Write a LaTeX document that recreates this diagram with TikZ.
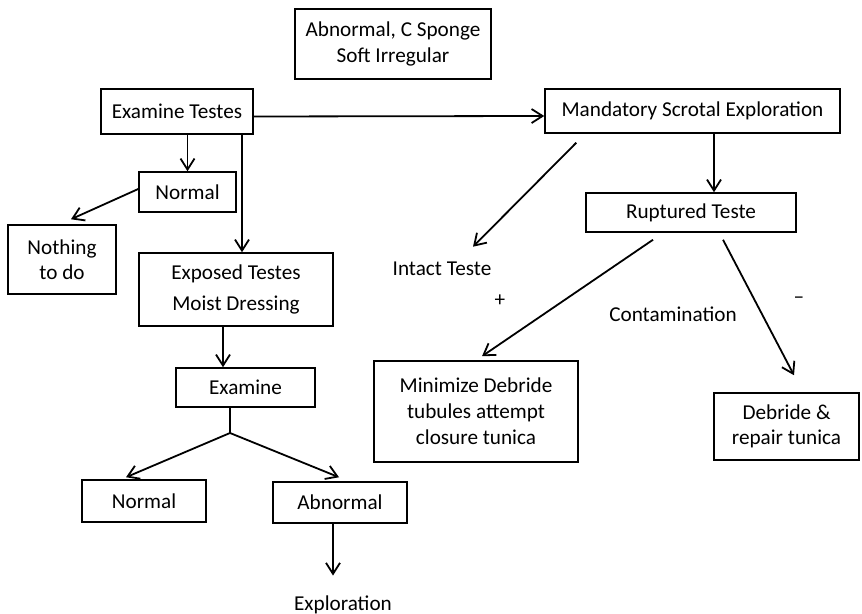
\documentclass[tikz,border=0pt]{standalone}
\usepackage{fontspec}
\setmainfont{Carlito}
\usetikzlibrary{arrows.meta}
\begin{document}
\begin{tikzpicture}[x=0.5pt,y=-0.5pt,
  box/.style={draw, line width=0.75pt, inner sep=0pt, align=center,
    font=\fontsize{10.6}{13}\selectfont},
  lbl/.style={inner sep=0pt, font=\fontsize{10.6}{13}\selectfont},
  link/.style={line width=0.9pt},
  arr/.style={link, -{Straight Barb[length=5.5pt,width=7pt,line width=0.9pt]}}]
\useasboundingbox (0,0) rectangle (862,614);

% boxes
\node[box, minimum width=98pt, minimum height=35pt] (top) at (393,44)
  {Abnormal, C Sponge\\Soft Irregular};
\node[box, minimum width=76pt, minimum height=22.5pt] (ext) at (177,111.5)
  {Examine Testes};
\node[box, minimum width=48.5pt, minimum height=20pt] (norm1) at (187.5,192)
  {Normal};
\node[box, minimum width=54pt, minimum height=34.5pt,
  font=\fontsize{10.6}{12.5}\selectfont] (nothing) at (62,259.5)
  {Nothing\\to do};
\node[box, minimum width=97pt, minimum height=36.5pt,
  font=\fontsize{10.6}{15.5}\selectfont] (exposed) at (236,289.5)
  {Exposed Testes\\Moist Dressing};
\node[box, minimum width=69.5pt, minimum height=19.5pt] (exam) at (245.5,387.5)
  {Examine};
\node[box, minimum width=62pt, minimum height=21pt] (norm2) at (144,501)
  {Normal};
\node[box, minimum width=67pt, minimum height=20.5pt] (abn) at (340,502.5)
  {Abnormal};
\node[box, minimum width=147.5pt, minimum height=22pt] (mand) at (692.5,111)
  {Mandatory Scrotal Exploration};
\node[box, minimum width=105pt, minimum height=19.5pt] (rupt) at (691,212.5)
  {Ruptured Teste};
\node[box, minimum width=102pt, minimum height=50.5pt] (minim) at (476,411.5)
  {Minimize Debride\\tubules attempt\\closure tunica};
\node[box, minimum width=72.5pt, minimum height=33.5pt,
  font=\fontsize{10.6}{12.5}\selectfont] (debr) at (786.5,426.5)
  {Debride \&\\repair tunica};

% free labels
\node[lbl] (intact) at (442,269) {Intact Teste};
\node[lbl] (plus) at (500,301) {+};
\node[lbl] (contam) at (673,314) {Contamination};
\node[lbl] (minus) at (799,300) {–};
\node[lbl] (explo) at (343,605) {Exploration};

% left branch
\draw[arr] ([yshift=-2.5pt]ext.east) -- ([yshift=-2.5pt]mand.west);
\draw[arr] (norm1.north |- ext.south) -- (norm1.north);
\draw[arr] ([xshift=3pt]exposed.north |- ext.south) -- ([xshift=3pt]exposed.north);
\draw[arr] ([yshift=1.5pt]norm1.west) -- ([xshift=4.5pt,yshift=2.5pt]nothing.north);
\draw[arr] ([xshift=-6.5pt]exposed.south) -- ([xshift=-6.5pt]exposed.south |- exam.north);
\coordinate (fork) at (230,433);
\draw[link] (fork |- exam.south) -- (fork);
\draw[arr] (fork) -- ([xshift=-9pt,yshift=1pt]norm2.north);
\draw[arr] (fork) -- ([xshift=-0.5pt,yshift=2pt]abn.north);
\draw[arr] ([xshift=-3.5pt]abn.south) -- ([xshift=-3.5pt,yshift=10pt]abn.south |- explo.north);

% right branch
\draw[arr] ([xshift=16pt,yshift=-4.5pt]mand.south west) -- ([xshift=15.5pt,yshift=7.5pt]intact.north);
\draw[arr] ([xshift=10.75pt]mand.south) -- ([xshift=10.75pt]mand.south |- rupt.north);
\draw[arr] ([xshift=-19pt,yshift=-3.5pt]rupt.south) -- ([xshift=3pt,yshift=2pt]minim.north);
\draw[arr] ([xshift=16pt,yshift=-3.5pt]rupt.south) -- ([xshift=3.75pt,yshift=8.5pt]debr.north);
\end{tikzpicture}
\end{document}
